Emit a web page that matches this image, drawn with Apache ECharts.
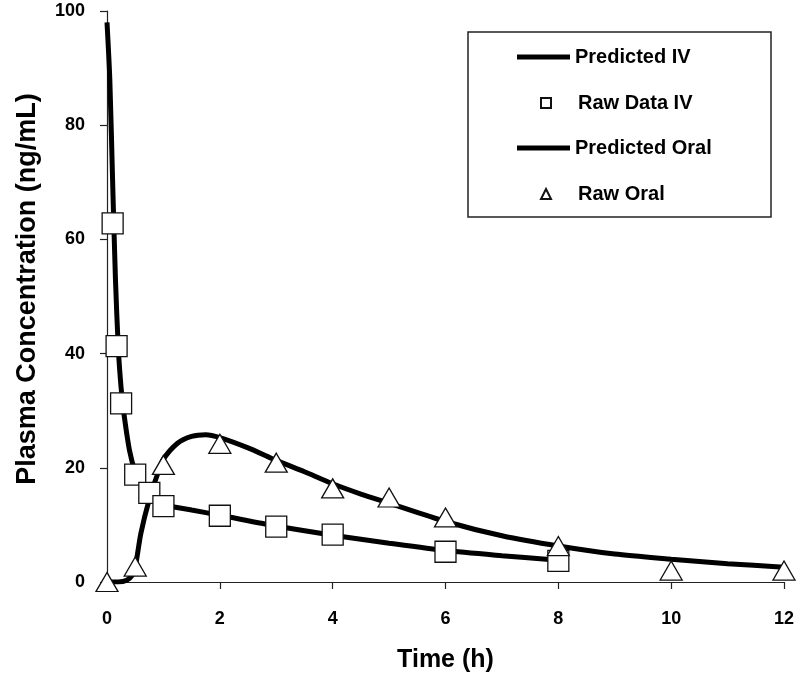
<!DOCTYPE html>
<html>
<head>
<meta charset="utf-8">
<script src="https://cdn.jsdelivr.net/npm/echarts@6/dist/echarts.min.js"></script>
<style>html,body{margin:0;padding:0;background:#fff;}#c{width:800px;height:678px;}</style>
</head>
<body>
<div id="c"></div>
<script>
// Raw data (observed)
var rawIvTime = [0.1, 0.17, 0.25, 0.5, 0.75, 1, 2, 3, 4, 6, 8];
var rawIvConc = [62.8, 41.3, 31.3, 18.8, 15.6, 13.3, 11.6, 9.7, 8.3, 5.3, 3.7];
var rawOralTime = [0, 0.5, 1, 2, 3, 4, 5, 6, 8, 10, 12];
var rawOralConc = [0, 2.7, 20.5, 24.2, 20.9, 16.4, 14.8, 11.3, 6.3, 2.0, 2.0];
// Predicted curves
var predIvTime = [0, 0.05, 0.1, 0.15, 0.2, 0.25, 0.3, 0.4, 0.5, 0.6, 0.75, 1, 1.5, 2, 3, 4, 5, 6, 7, 8];
var predIvConc = [98, 88, 70, 53, 41, 34, 29.5, 23, 19.3, 17.3, 15.6, 13.6, 12.6, 11.7, 9.8, 8.2, 6.8, 5.5, 4.6, 3.8];
var predOralTime = [0, 0.2, 0.35, 0.45, 0.5, 0.6, 0.75, 0.9, 1, 1.25, 1.5, 1.75, 2, 2.5, 3, 3.5, 4, 4.5, 5, 6, 7, 8, 9, 10, 11, 12];
var predOralConc = [0, 0, 0.3, 1.2, 2.5, 8.5, 14.5, 19, 21.5, 24.3, 25.5, 25.8, 25.3, 23.5, 21.3, 19.3, 17.2, 15.4, 13.8, 10.6, 8.1, 6.3, 4.9, 4.0, 3.2, 2.6];
var xMin = 0, xMax = 12, xStep = 2;
var yMin = 0, yMax = 100, yStep = 20;

function zip(a, b) { return a.map(function (v, i) { return [v, b[i]]; }); }

var FONT = "'Liberation Sans', Arial, sans-serif";
var chart = echarts.init(document.getElementById('c'));
chart.setOption({
  animation: false,
  backgroundColor: '#fff',
  grid: { left: 107, right: 16, top: 11, bottom: 95, containLabel: false },
  xAxis: {
    type: 'value', min: xMin, max: xMax, interval: xStep,
    name: 'Time (h)', nameLocation: 'middle', nameGap: 66,
    nameTextStyle: { fontFamily: FONT, fontWeight: 'bold', fontSize: 25, color: '#000' },
    axisLine: { lineStyle: { color: '#222', width: 1.2 } },
    axisTick: { inside: false, length: 7, lineStyle: { color: '#222', width: 1.2 } },
    axisLabel: { margin: 28, fontFamily: FONT, fontWeight: 'bold', fontSize: 18, color: '#000' },
    splitLine: { show: false }
  },
  yAxis: {
    type: 'value', min: yMin, max: yMax, interval: yStep,
    name: 'Plasma Concentration (ng/mL)', nameLocation: 'middle', nameGap: 66,
    nameTextStyle: { fontFamily: FONT, fontWeight: 'bold', fontSize: 27, color: '#000', padding: [0, 0, 0, 15] },
    axisLine: { lineStyle: { color: '#222', width: 1.2 } },
    axisTick: { inside: false, length: 7, lineStyle: { color: '#222', width: 1.2 } },
    axisLabel: { margin: 22, fontFamily: FONT, fontWeight: 'bold', fontSize: 18, color: '#000' },
    splitLine: { show: false }
  },
  graphic: [{
    type: 'rect', z: 1,
    shape: { x: 468, y: 32, width: 303, height: 185 },
    style: { fill: 'none', stroke: '#222', lineWidth: 1.5 }
  }],
  legend: [{
    orient: 'vertical', left: 517, top: 47, padding: 0,
    itemWidth: 53, itemHeight: 5, itemGap: 71,
    data: [{ name: 'Predicted IV', icon: 'rect' }, { name: 'Predicted Oral', icon: 'rect' }],
    textStyle: { fontFamily: FONT, fontWeight: 'bold', fontSize: 20, color: '#000', lineHeight: 20 },
    selectedMode: false
  }, {
    orient: 'vertical', left: 540, top: 93, padding: 0,
    itemWidth: 10, itemHeight: 10, itemGap: 71,
    data: ['Raw Data IV', 'Raw Oral'],
    textStyle: { fontFamily: FONT, fontWeight: 'bold', fontSize: 20, color: '#000', lineHeight: 20, padding: [0, 0, 0, 22] },
    selectedMode: false
  }],
  series: [{
    name: 'Predicted IV', type: 'line', data: zip(predIvTime, predIvConc), z: 2,
    showSymbol: false, symbol: 'none', smooth: 0.25,
    lineStyle: { color: '#000', width: 5 }, itemStyle: { color: '#000' }
  }, {
    name: 'Raw Data IV', type: 'scatter', data: zip(rawIvTime, rawIvConc), z: 4,
    symbol: 'rect', symbolSize: 21,
    itemStyle: { color: '#fff', borderColor: '#111', borderWidth: 1.3, opacity: 1 }
  }, {
    name: 'Predicted Oral', type: 'line', data: zip(predOralTime, predOralConc), z: 2,
    showSymbol: false, symbol: 'none', smooth: 0.25,
    lineStyle: { color: '#000', width: 5 }, itemStyle: { color: '#000' }
  }, {
    name: 'Raw Oral', type: 'scatter', data: zip(rawOralTime, rawOralConc), z: 4,
    symbol: 'triangle', symbolSize: [22, 19],
    itemStyle: { color: '#fff', borderColor: '#111', borderWidth: 1.3, opacity: 1 }
  }]
});
</script>
</body>
</html>
